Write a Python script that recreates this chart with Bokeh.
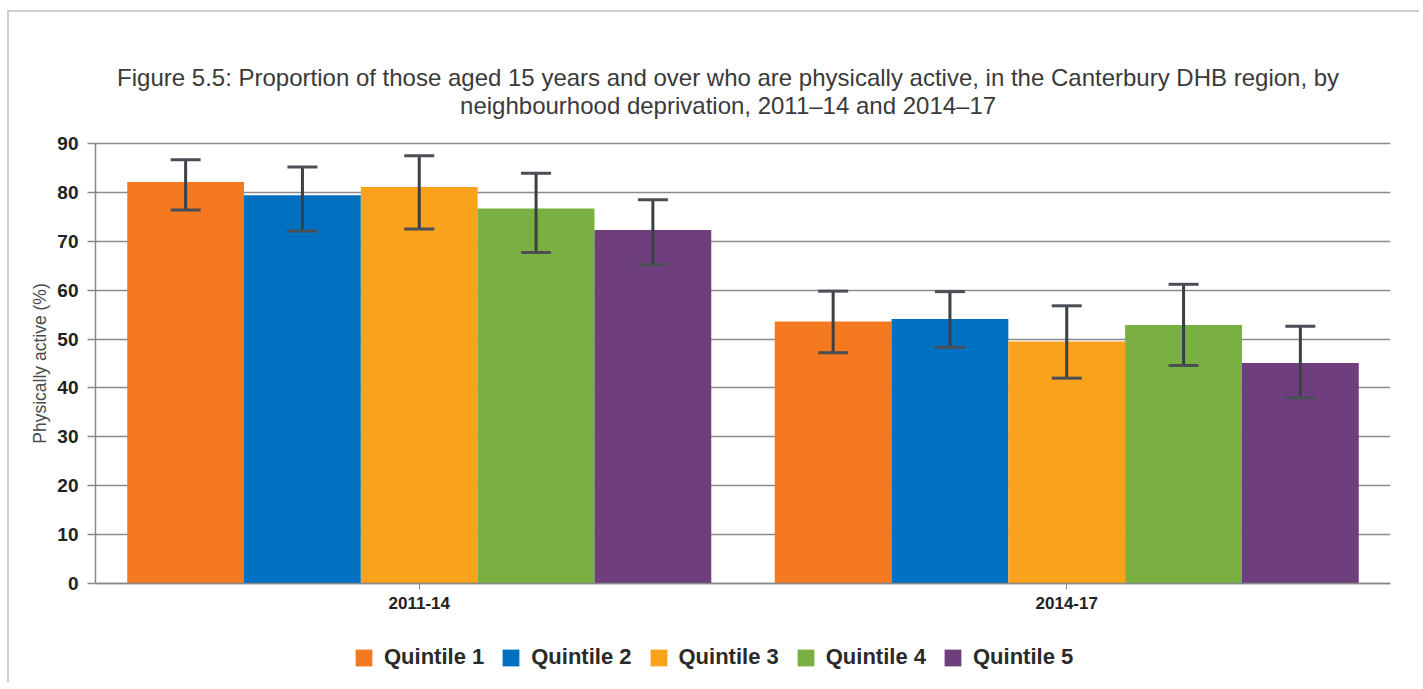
from bokeh.plotting import figure
from bokeh.models import (ColumnDataSource, FactorRange, Whisker, TeeHead, Legend,
                          LegendItem, FixedTicker, Range1d, Label)
from bokeh.transform import dodge
from bokeh.embed import file_html
from bokeh.resources import INLINE

periods = ["2011-14", "2014-17"]
quintiles = ["Quintile 1", "Quintile 2", "Quintile 3", "Quintile 4", "Quintile 5"]
colors = ["#F47920", "#0070C0", "#F9A21B", "#7AAF41", "#6E3F7C"]

q1 = [82.1, 53.6]
q1_lo = [76.4, 47.2]
q1_hi = [86.7, 59.8]
q2 = [79.4, 54.1]
q2_lo = [72.1, 48.3]
q2_hi = [85.2, 59.7]
q3 = [81.1, 49.5]
q3_lo = [72.5, 42.0]
q3_hi = [87.5, 56.8]
q4 = [76.7, 52.9]
q4_lo = [67.7, 44.6]
q4_hi = [83.9, 61.2]
q5 = [72.3, 45.1]
q5_lo = [65.2, 38.0]
q5_hi = [78.5, 52.6]

values = [q1, q2, q3, q4, q5]
lows = [q1_lo, q2_lo, q3_lo, q4_lo, q5_lo]
highs = [q1_hi, q2_hi, q3_hi, q4_hi, q5_hi]
y_ticks = [0, 10, 20, 30, 40, 50, 60, 70, 80, 90]

title_line1 = ("Figure 5.5: Proportion of those aged 15 years and over who are physically active, "
               "in the Canterbury DHB region, by")
title_line2 = "neighbourhood deprivation, 2011\u201314 and 2014\u201317"

# The frame extends above 90 and below 0 so the title and legend can sit inside it;
# the axes are bounded to 0-90.
p = figure(x_range=FactorRange(*periods, range_padding=0), y_range=Range1d(-20.66, 110.66),
           width=1412, height=672, output_backend="svg", toolbar_location=None,
           min_border_left=86, min_border_right=31, min_border_top=30, min_border_bottom=0)
p.styles = {"margin-left": "7px", "margin-top": "10px",
            "border-left": "2px solid #cccccc", "border-top": "2px solid #cccccc"}

p.outline_line_color = None
p.background_fill_color = "white"
p.border_fill_color = "white"

title_x = 0.977
for txt, ty in [(title_line1, 103.4), (title_line2, 97.8)]:
    p.add_layout(Label(x=title_x, y=ty, text=txt, text_align="center",
                       text_baseline="alphabetic", text_font="Liberation Sans",
                       text_font_size="24px", text_color="#3a3a3a"))

bw = 0.1804
offsets = [-2 * bw, -bw, 0.0, bw, 2 * bw]
items = []
for i in range(5):
    src = ColumnDataSource(dict(period=periods, val=values[i], lo=lows[i], hi=highs[i]))
    r = p.vbar(x=dodge("period", offsets[i], range=p.x_range), top="val", width=bw,
               source=src, fill_color=colors[i], line_color=None)
    items.append(LegendItem(label=quintiles[i], renderers=[r]))
    w = Whisker(base=dodge("period", offsets[i], range=p.x_range), lower="lo", upper="hi",
                source=src, dimension="height", line_color="#3b3f46", line_width=3,
                level="overlay",
                upper_head=TeeHead(size=30, line_color="#4a4e55", line_width=3),
                lower_head=TeeHead(size=30, line_color="#4a4e55", line_width=3))
    p.add_layout(w)

# axes
p.yaxis.ticker = FixedTicker(ticks=y_ticks)
p.yaxis.bounds = (0, 90)
p.yaxis.axis_line_color = "#888888"
p.yaxis.axis_line_width = 1.5
p.yaxis.major_tick_line_color = "#888888"
p.yaxis.major_tick_line_width = 1.5
p.yaxis.major_tick_out = 8
p.yaxis.major_tick_in = 0
p.yaxis.minor_tick_line_color = None
p.yaxis.major_label_text_font = "Liberation Sans"
p.yaxis.major_label_text_font_size = "19px"
p.yaxis.major_label_text_font_style = "bold"
p.yaxis.major_label_text_color = "#222222"
p.yaxis.major_label_standoff = 9
p.yaxis.axis_label = "Physically active (%)"
p.yaxis.axis_label_text_font = "Liberation Sans"
p.yaxis.axis_label_text_font_size = "17.5px"
p.yaxis.axis_label_text_font_style = "normal"
p.yaxis.axis_label_text_color = "#4a4a4a"
p.yaxis.axis_label_standoff = 4

p.xaxis.fixed_location = 0
p.xaxis.axis_line_color = "#888888"
p.xaxis.axis_line_width = 1.5
p.xaxis.major_tick_line_color = "#888888"
p.xaxis.major_tick_out = 6
p.xaxis.major_tick_in = 0
p.xaxis.minor_tick_line_color = None
p.xaxis.major_label_text_font = "Liberation Sans"
p.xaxis.major_label_text_font_size = "17px"
p.xaxis.major_label_text_font_style = "bold"
p.xaxis.major_label_text_color = "#222222"
p.xaxis.major_label_standoff = 8

p.xgrid.grid_line_color = None
p.ygrid.grid_line_color = "#8c8c8c"
p.ygrid.grid_line_width = 1.5
p.ygrid.ticker = FixedTicker(ticks=y_ticks)

legend = Legend(items=items, orientation="horizontal", location=(258, 14),
                glyph_width=21, glyph_height=21, label_standoff=10, spacing=16,
                label_text_font="Liberation Sans", label_text_font_size="22px",
                label_text_font_style="bold", label_text_color="#2a2a2a",
                border_line_color=None, background_fill_alpha=0, margin=0, padding=4)
p.add_layout(legend, "center")

open("out.html", "w").write(file_html(p, INLINE))
